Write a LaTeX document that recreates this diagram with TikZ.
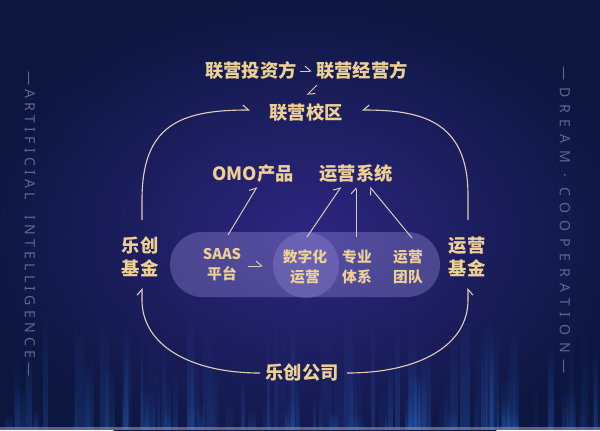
\documentclass[tikz,border=0pt]{standalone}
\usepackage{fontspec}
\newfontfamily\cjk{Noto Sans CJK SC}
\newfontfamily\tagfont{Noto Sans}
\usetikzlibrary{arrows.meta, calc, fadings}

\definecolor{bgdark}{RGB}{12,22,62}
\definecolor{bgmid}{RGB}{46,38,130}
\definecolor{gold}{RGB}{238,208,148}
\definecolor{linecol}{RGB}{222,205,180}
\definecolor{tagcol}{RGB}{92,102,145}
\definecolor{pillcol}{RGB}{175,165,240}
\definecolor{skyblue}{RGB}{45,105,205}

\tikzset{
  lbl/.style={text=gold, inner sep=0pt, align=center, font=\cjk\bfseries\fontsize{13}{16.5}\selectfont},
  sublbl/.style={lbl, font=\cjk\bfseries\fontsize{10.5}{14.2}\selectfont},
  sidetag/.style={text=tagcol, inner sep=0pt, rotate=-90},
  loopline/.style={draw=linecol, line width=0.8pt},
  barbL/.style={-{Straight Barb[harpoon, length=4pt, width=7pt]}},
  barbR/.style={-{Straight Barb[harpoon, swap, length=4pt, width=7pt]}},
  arr/.style={draw=linecol, line width=0.7pt, barbL},
}

\begin{document}
\begin{tikzpicture}[x=0.25mm, y=-0.25mm]
\useasboundingbox (0,0) rectangle (600,430);
\fill[bgdark] (0,0) rectangle (600,430);
\shade[inner color=bgmid, outer color=bgdark] (305,235) ellipse[x radius=330, y radius=240];

\pgfmathsetseed{17}
\foreach \i in {1,...,110}{
  \pgfmathsetmacro\bx{rnd*600}
  \pgfmathsetmacro\bh{15+rnd*110}
  \pgfmathsetmacro\bw{2+rnd*9}
  \pgfmathsetmacro\bo{0.08+rnd*0.22}
  \fill[skyblue, fill opacity=\bo, path fading=north] (\bx,430) rectangle ++(\bw,-\bh);
}
\fill[tagcol!70!white, fill opacity=0.6] (0,427) rectangle (600,430);

\node[sidetag] (leftTag) at (30,224) {\tagfont\fontsize{10}{12}\selectfont\addfontfeature{LetterSpace=30}—ARTIFICIAL\ \ INTELLIGENCE—};
\node[sidetag] (rightTag) at (565,220) {\tagfont\fontsize{10}{12}\selectfont\addfontfeature{LetterSpace=48}—DREAM · COOPERATION—};

\fill[pillcol, fill opacity=0.3, rounded corners=8.1mm] (170,232) rectangle (440,297);
\fill[pillcol, fill opacity=0.25] (306,265) circle[radius=33];

\node[lbl] (investor) at (251,71) {联营投资方};
\node[lbl] (operator) at (362,71) {联营经营方};
\node[lbl] (campus) at (306,113) {联营校区};
\node[lbl] (omoProduct) at (253,174) {OMO产品};
\node[lbl] (opSystem) at (356,174) {运营系统};
\node[lbl] (fundLeft) at (140,257) {乐创\\基金};
\node[lbl] (fundRight) at (467,257) {运营\\基金};
\node[lbl] (company) at (302,373) {乐创公司};

\node[sublbl] (saas) at (222,265) {SAAS\\平台};
\node[sublbl] (digital) at (305,267) {数字化\\运营};
\node[sublbl] (system) at (357,267) {专业\\体系};
\node[sublbl] (team) at (408,267) {运营\\团队};

\draw[arr, shorten <=2pt, shorten >=3pt] (investor) -- (operator);
\draw[arr] ($(operator)+(-45,14)$) -- ($(campus)+(1,-18)$);
\draw[arr] ($(saas)+(6,-30)$) -- ($(omoProduct)+(4,13)$);
\draw[arr] ($(digital)+(2,-30)$) -- ($(opSystem)+(-15,13)$);
\draw[arr] ($(system)+(-1,-30)$) -- ($(opSystem)+(0,13)$);
\draw[arr] ($(team)+(4,-29)$) -- ($(opSystem)+(14,13)$);
\draw[arr] ($(saas)+(26,1)$) -- ($(digital)+(-42,-1)$);

\draw[loopline, barbL] ($(fundLeft)+(2,-37)$) -- ($(fundLeft)+(2,-57)$)
  .. controls ($(fundLeft)+(2,-132)$) and ($(campus)+(-126,-3)$) .. ($(campus)+(-56,-3)$);
\draw[loopline, barbR] ($(fundRight)+(1,-37)$) -- ($(fundRight)+(1,-62)$)
  .. controls ($(fundRight)+(1,-137)$) and ($(campus)+(114,-3)$) .. ($(campus)+(56,-3)$);
\draw[loopline, barbL] ($(company)+(-42,0)$)
  .. controls ($(company)+(-112,0)$) and ($(fundLeft)+(2,88)$) .. ($(fundLeft)+(2,43)$) -- ($(fundLeft)+(2,31)$);
\draw[loopline, barbR] ($(company)+(45,0)$)
  .. controls ($(company)+(118,0)$) and ($(fundRight)+(1,88)$) .. ($(fundRight)+(1,43)$) -- ($(fundRight)+(1,31)$);

\end{tikzpicture}
\end{document}
